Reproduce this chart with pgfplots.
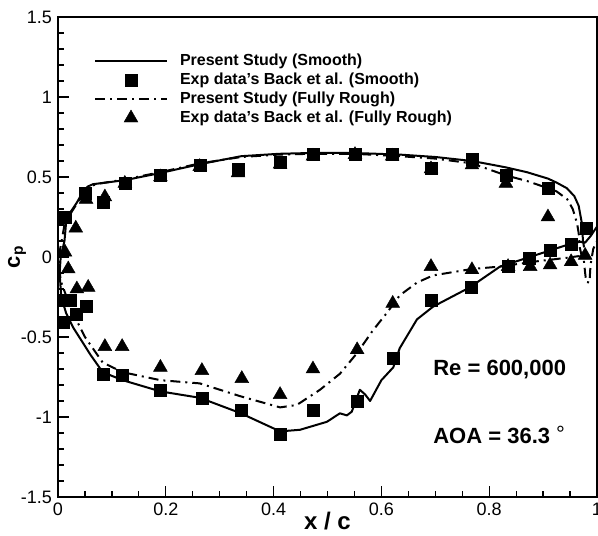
\documentclass[border=0pt]{standalone}
\usepackage{pgfplots}
\pgfplotsset{compat=1.18}
\usepackage{fontspec}
\setmainfont{Liberation Sans}
\pgfplotsset{
  lineleg/.style={legend image code/.code={\draw[##1] (0pt,0pt) -- (72pt,0pt);}},
  markleg/.style={legend image code/.code={\draw[mark repeat=2,mark phase=2,##1] plot coordinates {(0pt,0pt) (36pt,0pt) (72pt,0pt)};}},
}

\begin{document}
\begin{tikzpicture}
\begin{axis}[
  scale only axis,
  width=539pt, height=480pt,
  xmin=0, xmax=1, ymin=-1.5, ymax=1.5,
  xtick={0,0.2,0.4,0.6,0.8,1},
  xticklabels={0,0.2,0.4,0.6,0.8,1},
  ytick={-1.5,-1,-0.5,0,0.5,1,1.5},
  yticklabels={-1.5,-1,-0.5,0,0.5,1,1.5},
  minor x tick num=3, minor y tick num=4,
  tick pos=left, tick align=inside,
  major tick length=11pt, minor tick length=6pt,
  every tick/.style={black, line width=1.3pt},
  axis line style={line width=2.2pt},
  xticklabel style={font=\fontsize{18}{18}\selectfont, inner sep=0pt, yshift=-6pt},
  yticklabel style={font=\fontsize{18}{18}\selectfont, inner sep=0pt, xshift=-6pt},
  xlabel={x / c},
  ylabel={c\textsubscript{p}},
  every axis x label/.style={at={(axis description cs:0.5,0)}, anchor=center, yshift=-24pt, font=\bfseries\fontsize{24}{24}\selectfont},
  every axis y label/.style={at={(axis description cs:-0.076,0.5)}, anchor=center, rotate=90, font=\bfseries\fontsize{22}{22}\selectfont},
  legend cell align=left,
  legend style={at={(axis description cs:0.0668,0.927)}, anchor=north west, draw=none, fill=none, inner sep=0pt, outer sep=0pt,
    font=\bfseries\fontsize{16}{16}\selectfont,
    nodes={inner sep=1pt, text height=12pt, text depth=4pt},
    row sep=1pt,
    /tikz/every odd column/.append style={column sep=11pt}},
]
\coordinate (SW) at (rel axis cs:0,0);
\coordinate (NE) at (rel axis cs:1,1);

% Present study (smooth)
\addplot[black, line width=2pt, line join=round, lineleg] coordinates {
(0.976,0.06) (0.974,0.10) (0.972,0.21) (0.966,0.32) (0.958,0.38) (0.944,0.43)
(0.925,0.465) (0.909,0.49) (0.87,0.53) (0.831,0.56) (0.8,0.58) (0.768,0.60)
(0.7,0.625) (0.634,0.64) (0.55,0.65) (0.47,0.65) (0.41,0.645) (0.34,0.63)
(0.263,0.58) (0.19,0.525) (0.124,0.48) (0.065,0.455) (0.055,0.44) (0.045,0.40)
(0.035,0.34) (0.025,0.29) (0.016,0.25) (0.012,0.10) (0.005,0.0)
(0.003,-0.1) (0.006,-0.25) (0.015,-0.35) (0.028,-0.44) (0.045,-0.53) (0.06,-0.61)
(0.083,-0.72) (0.12,-0.77) (0.19,-0.84) (0.263,-0.88) (0.338,-0.975) (0.412,-1.09)
(0.449,-1.08) (0.499,-1.03) (0.523,-0.977) (0.536,-0.99) (0.545,-0.967) (0.56,-0.83)
(0.57,-0.86) (0.579,-0.90) (0.60,-0.77) (0.622,-0.69) (0.634,-0.57) (0.666,-0.39)
(0.696,-0.31) (0.764,-0.19) (0.82,-0.06) (0.881,0.006) (0.944,0.075) (0.968,0.095)
(0.978,0.09) (0.988,0.13) (1.0,0.19)
};
\addlegendentry{Present Study (Smooth)}

% Exp smooth
\addplot[only marks, mark=square*, mark size=6pt, mark options={fill=black, draw=black}, markleg] coordinates {
(0.013,0.25) (0.05,0.40) (0.083,0.34) (0.124,0.46) (0.19,0.51) (0.263,0.575)
(0.334,0.55) (0.412,0.59) (0.473,0.64) (0.551,0.645) (0.62,0.645) (0.692,0.555)
(0.768,0.61) (0.831,0.51) (0.909,0.43) (0.98,0.18)
(0.010,-0.41) (0.013,-0.27) (0.022,-0.27) (0.033,-0.36) (0.052,-0.31) (0.083,-0.73)
(0.12,-0.74) (0.19,-0.83) (0.267,-0.88) (0.34,-0.96) (0.412,-1.11) (0.473,-0.956)
(0.555,-0.90) (0.621,-0.63) (0.692,-0.27) (0.766,-0.19) (0.835,-0.06) (0.874,-0.006)
(0.913,0.044) (0.952,0.08)
};
\addlegendentry{Exp data's Back et al. (Smooth)}

% Present study (fully rough)
\addplot[black, line width=2pt, dash pattern=on 10pt off 5pt on 2pt off 5pt, lineleg] coordinates {
(0.972,0.0) (0.968,0.06) (0.966,0.15) (0.963,0.21) (0.955,0.30) (0.945,0.36)
(0.925,0.41) (0.909,0.43) (0.87,0.475) (0.831,0.51) (0.768,0.585) (0.7,0.615)
(0.634,0.63) (0.55,0.645) (0.47,0.645) (0.41,0.64) (0.34,0.625) (0.263,0.585)
(0.19,0.53) (0.124,0.485) (0.07,0.455) (0.055,0.43) (0.04,0.36) (0.025,0.28)
(0.012,0.20) (0.004,0.05) (0.002,-0.05)
(0.005,-0.15) (0.016,-0.25) (0.035,-0.40) (0.05,-0.50) (0.083,-0.66) (0.12,-0.72)
(0.19,-0.77) (0.263,-0.79) (0.338,-0.87) (0.412,-0.94) (0.443,-0.925) (0.486,-0.83)
(0.523,-0.73) (0.555,-0.60) (0.584,-0.46) (0.61,-0.35) (0.634,-0.24) (0.666,-0.16)
(0.696,-0.115) (0.768,-0.075) (0.82,-0.06) (0.881,-0.03) (0.944,-0.005) (0.965,0.005)
(0.975,0.0) (0.978,-0.10) (0.980,-0.155) (0.986,-0.16) (0.988,-0.05) (0.993,0.05) (1.0,0.10)
};
\addlegendentry{Present Study (Fully Rough)}

% Exp rough
\addplot[only marks, mark=triangle*, mark size=8pt, mark options={fill=black, draw=black}, markleg] coordinates {
(0.013,0.03) (0.033,0.18) (0.052,0.36) (0.087,0.375) (0.124,0.46) (0.19,0.50)
(0.263,0.565) (0.334,0.525) (0.412,0.58) (0.473,0.63) (0.551,0.64) (0.62,0.63)
(0.692,0.55) (0.768,0.575) (0.831,0.46) (0.909,0.25) (0.978,0.01)
(0.019,-0.075) (0.035,-0.20) (0.056,-0.19) (0.087,-0.56) (0.119,-0.56) (0.19,-0.69)
(0.267,-0.71) (0.341,-0.76) (0.412,-0.86) (0.473,-0.70) (0.555,-0.58) (0.621,-0.29)
(0.692,-0.06) (0.768,-0.08) (0.835,-0.06) (0.876,-0.06) (0.913,-0.05) (0.952,-0.03)
};
\addlegendentry{Exp data's Back et al. (Fully Rough)}

\node[anchor=west, inner sep=0pt, font=\bfseries\fontsize{22}{22}\selectfont] at (axis cs:0.696,-0.706) {Re = 600,000};
\node[anchor=west, inner sep=0pt, font=\bfseries\fontsize{22}{22}\selectfont] at (axis cs:0.696,-1.11) {AOA = 36.3 \raisebox{2pt}{\mdseries °}};
\end{axis}
\pgfresetboundingbox
\path[use as bounding box] ([shift={(-58pt,-39pt)}]SW) rectangle ([shift={(1pt,17pt)}]NE);
\end{tikzpicture}
\end{document}
